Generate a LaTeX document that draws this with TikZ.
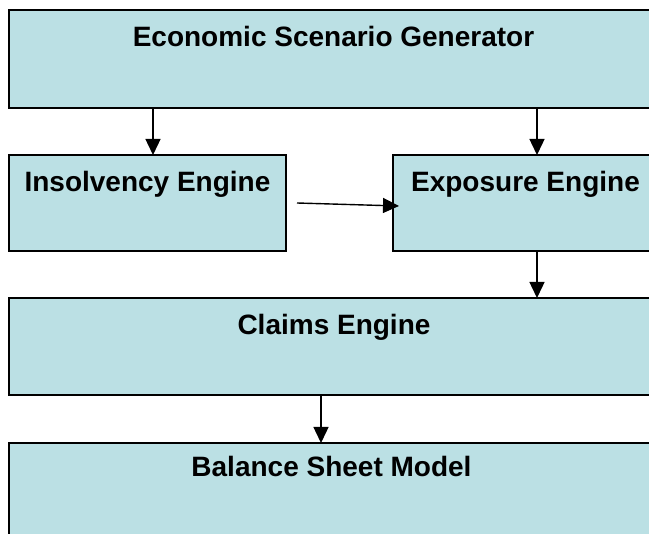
\documentclass[tikz,border=0pt]{standalone}
\usepackage{fontspec}
\setmainfont{Liberation Sans}
\usetikzlibrary{arrows.meta}
\definecolor{boxfill}{RGB}{187,224,228}
\tikzset{
  blk/.style={draw=black, line width=1.6pt, fill=boxfill, inner sep=0pt, outer sep=0pt, anchor=north west},
  lbl/.style={anchor=base, inner sep=0pt, font=\fontsize{28}{32}\selectfont\bfseries},
  arr/.style={line width=1.4pt, -{Triangle[length=16pt,width=15pt]}}
}
\begin{document}
\begin{tikzpicture}[x=1pt,y=-1pt]
  \useasboundingbox (0,0) rectangle (649,534);
  % blocks (the right and lower ones run past the page edge)
  \node[blk, minimum width=656pt, minimum height=98pt] (esg) at (9,10) {};
  \node[blk, minimum width=277pt, minimum height=96pt] (ins) at (9,155) {};
  \node[blk, minimum width=272pt, minimum height=96pt] (exp) at (393,155) {};
  \node[blk, minimum width=656pt, minimum height=97pt] (clm) at (9,298) {};
  \node[blk, minimum width=656pt, minimum height=107pt] (bal) at (9,443) {};
  % titles
  \node[lbl] (tEsg) at (333.5,47) {Economic Scenario Generator};
  \node[lbl] (tIns) at (147.5,192) {Insolvency Engine};
  \node[lbl] (tExp) at (525.5,192) {Exposure Engine};
  \node[lbl] (tClm) at (334,335) {Claims Engine};
  \node[lbl] (tBal) at (331.5,477) {Balance Sheet Model};
  % connectors
  \coordinate (xa) at (153,0);
  \coordinate (xb) at (537,0);
  \coordinate (xc) at (321,0);
  \coordinate (hs) at (297,203);
  \coordinate (he) at (399,206);
  \draw[arr] (esg.south -| xa) -- (ins.north -| xa);
  \draw[arr] (esg.south -| xb) -- (exp.north -| xb);
  \draw[arr] (hs) -- (he);
  \draw[arr] (exp.south -| xb) -- (clm.north -| xb);
  \draw[arr] (clm.south -| xc) -- (bal.north -| xc);
\end{tikzpicture}
\end{document}
